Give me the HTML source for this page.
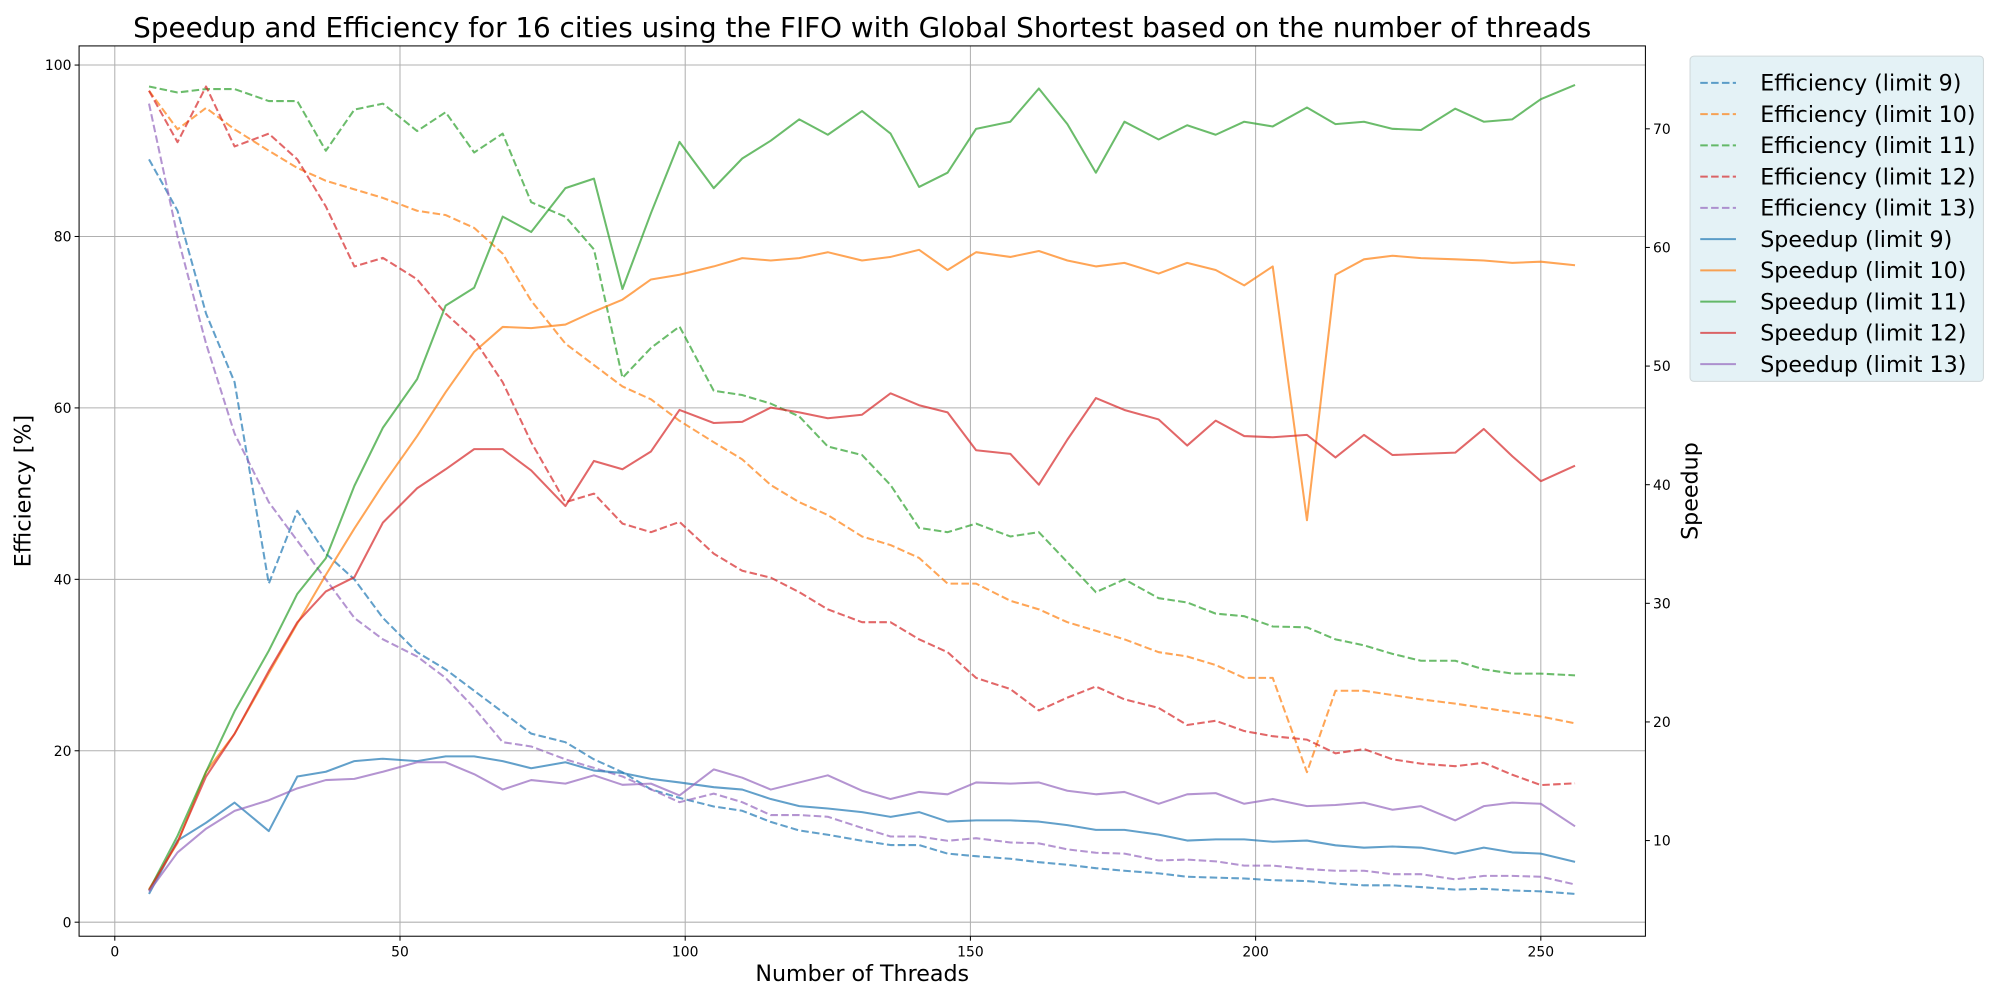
<!DOCTYPE html>
<html><head><meta charset="utf-8"><style>
html,body{margin:0;padding:0;background:#fff;}
svg{display:block;font-family:"DejaVu Sans","Liberation Sans",sans-serif;}
</style></head><body>
<svg id="chart" width="2000" height="1000" viewBox="0 0 1568 784" xmlns="http://www.w3.org/2000/svg"></svg>
<script>
const threads=[6,11,16,21,27,32,37,42,47,53,58,63,68,73,79,84,89,94,99,105,110,115,120,125,131,136,141,146,151,157,162,167,172,177,183,188,193,198,203,209,214,219,224,229,235,240,245,250,256];
const effL9=[89,83,71,63,39.5,48,43,40,35.5,31.5,29.5,27,24.5,22,21,19,17.5,15.5,14.5,13.5,13,11.7,10.7,10.2,9.5,9,9,8,7.7,7.4,7,6.7,6.3,6,5.7,5.3,5.2,5.1,4.9,4.8,4.5,4.3,4.3,4.1,3.8,3.9,3.7,3.6,3.3];
const effL10=[97,92.5,95,92.5,90,88,86.5,85.5,84.5,83,82.5,81,78,72.5,67.5,65,62.5,61,58.5,56,54,51,49,47.5,45,44,42.5,39.5,39.5,37.5,36.5,35,34,33,31.5,31,30,28.5,28.5,17.5,27,27,26.5,26,25.5,25,24.5,24,23.2];
const effL11=[97.5,96.8,97.2,97.2,95.8,95.8,90,94.8,95.5,92.3,94.5,89.8,92,84,82.3,78.5,63.5,67,69.5,62,61.5,60.5,59,55.5,54.5,51,46,45.5,46.5,45,45.5,42,38.5,40,37.8,37.3,36,35.7,34.5,34.4,33,32.3,31.3,30.5,30.5,29.5,29,29,28.8];
const effL12=[97,91,97.5,90.5,92,89,83.5,76.5,77.5,75,71,68,63,56,49,50,46.5,45.5,46.7,43,41,40.2,38.5,36.5,35,35,33,31.5,28.5,27.2,24.7,26.2,27.5,26,25,23,23.5,22.3,21.7,21.3,19.7,20.2,19,18.5,18.2,18.6,17.2,16,16.2];
const effL13=[95.5,80,67.5,57,49,44.5,40,35.5,33,31,28.5,25,21,20.5,19,18,17,15.5,14,15,14,12.5,12.5,12.3,11,10,10,9.5,9.8,9.3,9.2,8.5,8.1,8,7.2,7.3,7.1,6.6,6.6,6.2,6,6,5.6,5.6,5,5.4,5.4,5.3,4.4];
const spL9=[5.5,10,11.5,13.2,10.8,15.4,15.8,16.7,16.9,16.7,17.1,17.1,16.7,16.1,16.6,15.9,15.7,15.2,14.9,14.5,14.3,13.5,12.9,12.7,12.4,12,12.4,11.6,11.7,11.7,11.6,11.3,10.9,10.9,10.5,10,10.1,10.1,9.9,10,9.6,9.4,9.5,9.4,8.9,9.4,9,8.9,8.2];
const spL10=[5.9,9.8,15.8,19,24.1,28.3,32.4,36.3,40,44.1,47.8,51.2,53.3,53.2,53.5,54.6,55.6,57.3,57.7,58.4,59.1,58.9,59.1,59.6,58.9,59.2,59.8,58.1,59.6,59.2,59.7,58.9,58.4,58.7,57.8,58.7,58.1,56.8,58.4,37,57.7,59,59.3,59.1,59,58.9,58.7,58.8,58.5];
const spL11=[5.8,10.4,15.8,20.9,26,30.8,33.8,39.9,44.8,48.9,55.1,56.6,62.6,61.3,65,65.8,56.5,62.9,68.9,65,67.5,69,70.8,69.5,71.5,69.6,65.1,66.3,70,70.6,73.4,70.4,66.3,70.6,69.1,70.3,69.5,70.6,70.2,71.8,70.4,70.6,70,69.9,71.7,70.6,70.8,72.5,73.7];
const spL12=[5.8,9.9,15.4,19,24.3,28.4,31,32.2,36.8,39.7,41.3,43,43,41.2,38.2,42,41.3,42.8,46.3,45.2,45.3,46.5,46.1,45.6,45.9,47.7,46.7,46.1,42.9,42.6,40,43.8,47.3,46.3,45.5,43.3,45.4,44.1,44,44.2,42.3,44.2,42.5,42.6,42.7,44.7,42.4,40.3,41.6];
const spL13=[5.7,9,11,12.5,13.4,14.4,15.1,15.2,15.8,16.6,16.6,15.6,14.3,15.1,14.8,15.5,14.7,14.8,13.8,16,15.3,14.3,14.9,15.5,14.2,13.5,14.1,13.9,14.9,14.8,14.9,14.2,13.9,14.1,13.1,13.9,14,13.1,13.5,12.9,13,13.2,12.6,12.9,11.7,12.9,13.2,13.1,11.2];
const xTicks=[0,50,100,150,200,250];
const yLeftTicks=[0,20,40,60,80,100];
const yRightTicks=[10,20,30,40,50,60,70];
const seriesNames=["limit 9","limit 10","limit 11","limit 12","limit 13"];
const colors=["#1f77b4","#ff7f0e","#2ca02c","#d62728","#9467bd"];

const NS="http://www.w3.org/2000/svg";
const svg=document.getElementById("chart");
const L=62,R=1290,T=36,B=734;
const X=v=>90+(v-0)*(1208-90)/250;
const YL=v=>723-v*6.72;
const YR=v=>659-(v-10)*9.3;
function mk(tag,attrs,parent){const e=document.createElementNS(NS,tag);for(const k in attrs)e.setAttribute(k,attrs[k]);(parent||svg).appendChild(e);return e;}

let t=mk("text",{x:676,y:29,"text-anchor":"middle","font-size":21.8,fill:"#000"});
t.textContent="Speedup and Efficiency for 16 cities using the FIFO with Global Shortest based on the number of threads";



const grid=mk("g",{});


xTicks.forEach(v=>{const l=mk("line",{x1:X(v),x2:X(v),y1:T,y2:B,stroke:"#b0b0b0","stroke-width":0.8},grid);

});
yLeftTicks.forEach(v=>{const l=mk("line",{x1:L,x2:R,y1:YL(v),y2:YL(v),stroke:"#b0b0b0","stroke-width":0.8},grid);

});

function line(vals,yf,color,dashed,name){
  const d=vals.map((v,i)=>(i?"L":"M")+X(threads[i]).toFixed(2)+","+yf(v).toFixed(2)).join("");
  const p=mk("path",{d:d,fill:"none",stroke:color,"stroke-width":1.6,"stroke-opacity":0.7,"stroke-linejoin":"round"});
  if(dashed)p.setAttribute("stroke-dasharray","5.9,2.6");
  
  
}
[effL9,effL10,effL11,effL12,effL13].forEach((s,i)=>line(s,YL,colors[i],true,"efficiency-line-"+(i+9)));
[spL9,spL10,spL11,spL12,spL13].forEach((s,i)=>line(s,YR,colors[i],false,"speedup-line-"+(i+9)));

const fr=mk("rect",{x:L,y:T,width:R-L,height:B-T,fill:"none",stroke:"#000","stroke-width":0.8});



xTicks.forEach(v=>{mk("line",{x1:X(v),x2:X(v),y1:B,y2:B+3.5,stroke:"#000","stroke-width":0.8});
const tx=mk("text",{x:X(v),y:B+16,"text-anchor":"middle","font-size":10.9});tx.textContent=v;

});
yLeftTicks.forEach(v=>{mk("line",{x1:L,x2:L-3.5,y1:YL(v),y2:YL(v),stroke:"#000","stroke-width":0.8});
const tx=mk("text",{x:L-6,y:YL(v)+4,"text-anchor":"end","font-size":10.9});tx.textContent=v;

});
yRightTicks.forEach(v=>{mk("line",{x1:R,x2:R+3.5,y1:YR(v),y2:YR(v),stroke:"#000","stroke-width":0.8});
const tx=mk("text",{x:R+6,y:YR(v)+4,"text-anchor":"start","font-size":10.9});tx.textContent=v;

});

let xl=mk("text",{x:676,y:769,"text-anchor":"middle","font-size":17.4});xl.textContent="Number of Threads";


let yl=mk("text",{transform:"translate(24,385) rotate(-90)","text-anchor":"middle","font-size":17.4});yl.textContent="Efficiency [%]";


let yr=mk("text",{transform:"translate(1331,385) rotate(-90)","text-anchor":"middle","font-size":17.4});yr.textContent="Speedup";



const lg=mk("g",{});


mk("rect",{x:1325,y:44,width:230,height:255,rx:3,fill:"#e3f1f5","fill-opacity":0.95,stroke:"#d0d8da","stroke-width":0.8},lg);
const labels=seriesNames.map(n=>"Efficiency ("+n+")").concat(seriesNames.map(n=>"Speedup ("+n+")"));
labels.forEach((lab,i)=>{
  const y=65+i*24.5;const c=colors[i%5];
  const ln=mk("line",{x1:1333,x2:1361,y1:y,y2:y,stroke:c,"stroke-width":1.6,"stroke-opacity":0.7},lg);
  if(i<5)ln.setAttribute("stroke-dasharray","5.9,2.6");
  const tx=mk("text",{x:1380,y:y+6,"font-size":17.4},lg);tx.textContent=lab;
  
  
});
</script>
</body></html>
